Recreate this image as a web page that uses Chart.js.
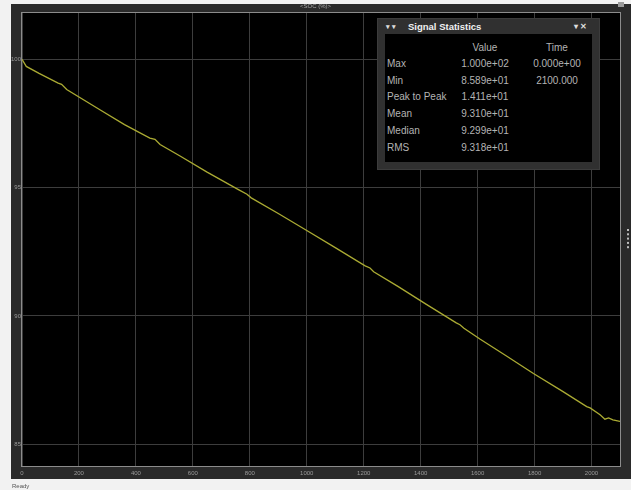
<!DOCTYPE html>
<html>
<head>
<meta charset="utf-8">
<script src="https://cdn.jsdelivr.net/npm/chart.js@4.4.0/dist/chart.umd.min.js"></script>
<style>
  html, body { margin: 0; padding: 0; background: #f2f2f2; }
  #wrap { position: relative; width: 631px; height: 490px; overflow: hidden; font-family: "Liberation Sans", Arial, sans-serif; }
  #scope { position: absolute; left: 0; top: 0; }
  .title { position: absolute; left: 0; width: 631px; top: 3px; text-align: center; font-size: 6px; color: #a8a8a8; }
  .status { position: absolute; left: 12px; top: 483px; font-size: 6px; color: #555; }
  .stats { position: absolute; left: 377px; top: 18px; width: 223px; height: 152px; background: #303030; box-sizing: border-box; border: 1px solid #3c3c3c; }
  .stats .hdr { position: absolute; left: 0; top: 0; width: 100%; height: 15px; color: #f0f0f0; font-weight: bold; font-size: 9.5px; line-height: 15px; }
  .stats .hdr .dots { position: absolute; left: 8px; top: 0; font-size: 7px; color: #ddd; }
  .stats .hdr .name { position: absolute; left: 30px; top: 0; }
  .stats .hdr .ctl { position: absolute; right: 12px; top: 0; font-size: 8px; color: #ddd; }
  .stats .body { position: absolute; left: 7px; top: 15px; width: 207px; height: 128px; background: #000; }
  .stats .row { position: absolute; left: 0; width: 100%; height: 14px; font-size: 10px; color: #b4b4b4; line-height: 14px; }
  .stats .row .k { position: absolute; left: 2px; }
  .stats .row .v { position: absolute; left: 60px; width: 80px; text-align: center; }
  .stats .row .t { position: absolute; left: 136px; width: 72px; text-align: center; }
</style>
</head>
<body>
<div id="wrap">
  <canvas id="scope" width="631" height="490"></canvas>
  <div class="title">&lt;SOC (%)&gt;</div>
  <div class="status">Ready</div>
  <div class="stats">
    <div class="hdr"><span class="dots">&#9662; &#9662;</span><span class="name">Signal Statistics</span><span class="ctl">&#9662; &#10005;</span></div>
    <div class="body" id="statsBody"></div>
  </div>
</div>
<script>
// State of charge trace (time in s, SOC in %)
const times = [0, 15, 60, 127, 139, 157, 275, 360, 449, 467, 485, 555, 650, 760, 790, 805, 900, 1000, 1100,
  1205, 1222, 1235, 1320, 1420, 1525, 1538, 1552, 1608, 1700, 1796, 1900, 1983, 1995, 2030, 2047, 2060, 2075, 2100];
const soc = [100.00, 99.72, 99.45, 99.07, 99.02, 98.82, 98.02, 97.45, 96.93, 96.88, 96.68, 96.23, 95.60, 94.92, 94.74, 94.60, 93.99, 93.33, 92.66,
  91.95, 91.87, 91.72, 91.15, 90.45, 89.73, 89.66, 89.52, 89.10, 88.45, 87.76, 87.05, 86.47, 86.42, 86.15, 85.98, 86.03, 85.95, 85.89];

// Axis tick values
const xTicks = [0, 200, 400, 600, 800, 1000, 1200, 1400, 1600, 1800, 2000];
const yTicks = [85, 90, 95, 100];

// Signal statistics table
const statNames = ['Max', 'Min', 'Peak to Peak', 'Mean', 'Median', 'RMS'];
const statValues = ['1.000e+02', '8.589e+01', '1.411e+01', '9.310e+01', '9.299e+01', '9.318e+01'];
const statTimes = ['0.000e+00', '2100.000', '', '', '', ''];

// Fill the statistics panel
(function () {
  const body = document.getElementById('statsBody');
  const head = document.createElement('div');
  head.className = 'row';
  head.style.top = '7px';
  head.innerHTML = '<span class="v">Value</span><span class="t">Time</span>';
  body.appendChild(head);
  statNames.forEach((n, i) => {
    const r = document.createElement('div');
    r.className = 'row';
    r.style.top = (23 + i * 16.7) + 'px';
    r.innerHTML = '<span class="k">' + n + '</span><span class="v">' + statValues[i] + '</span><span class="t">' + statTimes[i] + '</span>';
    body.appendChild(r);
  });
})();

// Scope frame, plot background, border and side decorations
const scopeFrame = {
  id: 'scopeFrame',
  beforeDraw(chart) {
    const c = chart.ctx, a = chart.chartArea;
    c.save();
    c.fillStyle = '#f2f2f2';
    c.fillRect(0, 0, chart.width, chart.height);
    c.fillStyle = '#2a2a2a';
    c.fillRect(11, 4, chart.width - 11, 475);
    c.fillStyle = '#000';
    c.fillRect(a.left, a.top, a.right - a.left, a.bottom - a.top);
    // top-right icon
    c.fillStyle = '#9a9a9a';
    c.fillRect(618, 2, 6, 5);
    // side handle dots
    c.fillStyle = '#bdbdbd';
    for (let i = 0; i < 5; i++) c.fillRect(627, 229 + i * 4.3, 2, 2);
    c.restore();
  },
  beforeDatasetsDraw(chart) {
    const c = chart.ctx, a = chart.chartArea;
    c.save();
    c.strokeStyle = '#8c8c8c';
    c.lineWidth = 1;
    c.strokeRect(a.left - 0.5, a.top - 0.5, a.right - a.left + 1, a.bottom - a.top + 1);
    c.restore();
  }
};

new Chart(document.getElementById('scope'), {
  type: 'line',
  data: {
    datasets: [{
      label: 'SOC (%)',
      data: times.map((t, i) => ({ x: t, y: soc[i] })),
      borderColor: '#abab33',
      borderWidth: 1.3,
      pointRadius: 0,
      tension: 0
    }]
  },
  options: {
    responsive: false,
    devicePixelRatio: 1,
    animation: false,
    layout: { padding: { left: 11, top: 13, right: 11, bottom: 11 } },
    plugins: { legend: { display: false }, tooltip: { enabled: false } },
    scales: {
      x: {
        type: 'linear',
        min: 0,
        max: 2100,
        afterFit: s => { s.height = 13; },
        afterBuildTicks: s => { s.ticks = xTicks.map(v => ({ value: v })); },
        grid: { color: '#3d3d3d', lineWidth: 1, drawTicks: false },
        border: { display: false },
        ticks: { color: '#9a9a9a', font: { size: 6, family: 'Liberation Sans' }, padding: 4, maxRotation: 0, callback: v => String(v) }
      },
      y: {
        type: 'linear',
        min: 84.155,
        max: 101.80,
        afterFit: s => { s.width = 11; },
        afterBuildTicks: s => { s.ticks = yTicks.map(v => ({ value: v })); },
        grid: { color: '#3d3d3d', lineWidth: 1, drawTicks: false },
        border: { display: false },
        ticks: { color: '#9a9a9a', font: { size: 6, family: 'Liberation Sans' }, padding: 1, callback: v => String(v) }
      }
    }
  },
  plugins: [scopeFrame]
});
</script>
</body>
</html>
